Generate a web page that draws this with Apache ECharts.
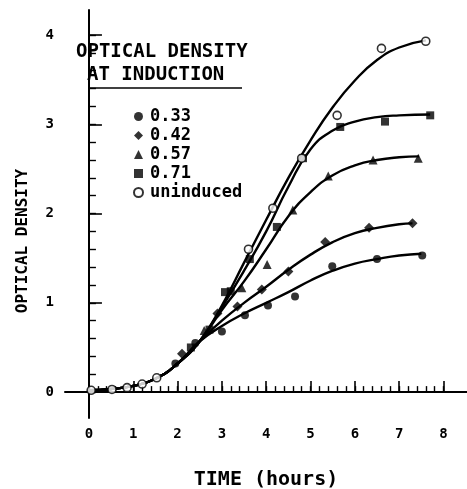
<!DOCTYPE html>
<html>
<head>
<meta charset="utf-8">
<script src="https://cdn.jsdelivr.net/npm/echarts@6/dist/echarts.min.js"></script>
<style>html,body{margin:0;padding:0;background:#fff;}#c{width:467px;height:489px;}</style>
</head>
<body>
<div id="c"></div>
<script>
// ---- data ----
var xTickLabels = [0, 1, 2, 3, 4, 5, 6, 7, 8];
var yTickLabels = [0, 1, 2, 3, 4];
var seriesNames = ['0.33', '0.42', '0.57', '0.71', 'uninduced'];

// measured points [time (h), optical density]
var pts033 = [[1.95,0.32],[2.4,0.55],[3.0,0.68],[3.52,0.86],[4.04,0.97],[4.65,1.07],[5.49,1.41],[6.5,1.49],[7.52,1.53]];
var pts042 = [[2.1,0.43],[2.9,0.88],[3.35,0.96],[3.9,1.15],[4.5,1.35],[5.33,1.68],[6.32,1.84],[7.3,1.89]];
var pts057 = [[2.6,0.69],[3.45,1.17],[4.02,1.43],[4.6,2.04],[5.4,2.42],[6.41,2.6],[7.43,2.62]];
var pts071 = [[2.3,0.5],[2.72,0.7],[3.07,1.12],[3.2,1.13],[3.63,1.49],[4.24,1.85],[4.83,2.62],[5.67,2.97],[6.68,3.03],[7.7,3.1]];
var ptsUn  = [[0.05,0.02],[0.52,0.03],[0.86,0.05],[1.2,0.09],[1.53,0.16],[3.6,1.6],[4.15,2.06],[4.8,2.62],[5.6,3.1],[6.6,3.85],[7.6,3.93]];

// fitted curves
var curveEarly = [[0,0.02],[0.5,0.035],[1.0,0.07],[1.5,0.15],[2.0,0.32],[2.5,0.57]];
var curve033 = [[3.0,0.74],[3.5,0.88],[4.0,1.0],[4.5,1.12],[5.0,1.25],[5.5,1.36],[6.0,1.44],[6.5,1.49],[7.0,1.53],[7.5,1.55]];
var curve042 = [[3.0,0.8],[3.5,1.0],[4.0,1.18],[4.5,1.37],[5.0,1.54],[5.5,1.68],[6.0,1.78],[6.5,1.84],[7.0,1.88],[7.3,1.89]];
var curve057 = [[3.0,0.92],[3.5,1.24],[4.0,1.6],[4.5,1.97],[5.0,2.24],[5.5,2.43],[6.0,2.54],[6.5,2.6],[7.0,2.63],[7.45,2.64]];
var curve071 = [[3.0,0.95],[3.5,1.36],[4.0,1.8],[4.5,2.3],[5.0,2.72],[5.5,2.93],[6.0,3.03],[6.5,3.08],[7.0,3.1],[7.7,3.11]];
var curveUn  = [[3.0,0.97],[3.5,1.45],[4.0,1.93],[4.5,2.4],[5.0,2.82],[5.5,3.19],[6.0,3.49],[6.5,3.72],[7.0,3.86],[7.6,3.94]];

var FONT = 'DejaVu Sans Mono';
function minorRange(a, b, step) {
  var r = [];
  for (var v = a; v <= b + 1e-9; v += step) r.push(Math.round(v * 100) / 100);
  return r;
}
function withEarly(c) { return curveEarly.concat(c); }

var chart = echarts.init(document.getElementById('c'), null, {renderer: 'canvas'});
var lineStyle = {color: '#000', width: 2.4};
function curveSeries(data) {
  return {type: 'line', data: withEarly(data), smooth: 0.5, symbol: 'none',
    lineStyle: lineStyle, silent: true, z: 2, animation: false};
}
function pointSeries(name, data, symbol, size, empty) {
  return {type: 'scatter', name: name, data: data, symbol: symbol, symbolSize: size,
    itemStyle: empty ? {color: '#fff', borderColor: '#000', borderWidth: 1.6} : {color: '#000'},
    z: 3, animation: false};
}

chart.setOption({
  animation: false,
  backgroundColor: '#fff',
  grid: {left: 65, top: 10, right: 0, bottom: 71},
  xAxis: [
    {type: 'value', min: -0.54, max: 8.53, position: 'bottom',
     axisLine: {show: true, lineStyle: {color: '#000', width: 2}},
     axisTick: {show: true, inside: true, length: 11, customValues: xTickLabels, lineStyle: {color: '#000', width: 1.6}},
     axisLabel: {customValues: xTickLabels, margin: 9, color: '#000', fontFamily: FONT, fontWeight: 'bold', fontSize: 14},
     splitLine: {show: false}},
    {type: 'value', min: -0.54, max: 8.53, position: 'bottom',
     axisLine: {show: false},
     axisTick: {show: true, inside: true, length: 6, customValues: minorRange(0, 8, 0.2), lineStyle: {color: '#000', width: 1.4}},
     axisLabel: {show: false}, splitLine: {show: false}}
  ],
  yAxis: [
    {type: 'value', min: -0.29, max: 4.28, position: 'left',
     axisLine: {show: true, lineStyle: {color: '#000', width: 2}},
     axisTick: {show: true, inside: true, length: 13, customValues: yTickLabels, lineStyle: {color: '#000', width: 1.6}},
     axisLabel: {customValues: yTickLabels, margin: 11, color: '#000', fontFamily: FONT, fontWeight: 'bold', fontSize: 14},
     splitLine: {show: false}},
    {type: 'value', min: -0.29, max: 4.28, position: 'left',
     axisLine: {show: false},
     axisTick: {show: true, inside: true, length: 7, customValues: minorRange(0, 4, 0.2), lineStyle: {color: '#000', width: 1.4}},
     axisLabel: {show: false}, splitLine: {show: false}}
  ],
  legend: {
    data: seriesNames, orient: 'vertical', left: 128, top: 102,
    itemWidth: 9, itemHeight: 9, itemGap: 0,
    textStyle: {color: '#000', fontFamily: FONT, fontWeight: 'bold', fontSize: 17, lineHeight: 19, padding: [0, 0, 0, 2]},
    selectedMode: false
  },
  graphic: [
    {type: 'text', left: 76, top: 43, style: {text: 'OPTICAL DENSITY', font: 'bold 19px "DejaVu Sans Mono"', fill: '#000'}},
    {type: 'text', left: 87, top: 66, style: {text: 'AT INDUCTION', font: 'bold 19px "DejaVu Sans Mono"', fill: '#000'}},
    {type: 'line', shape: {x1: 88, y1: 88, x2: 242, y2: 88}, style: {stroke: '#000', lineWidth: 1.6}},
    {type: 'text', x: 23, y: 241, rotation: Math.PI / 2,
     style: {text: 'OPTICAL DENSITY', font: 'bold 16px "DejaVu Sans Mono"', fill: '#000', align: 'center', verticalAlign: 'middle'}},
    {type: 'text', x: 266, y: 480,
     style: {text: 'TIME (hours)', font: 'bold 20px "DejaVu Sans Mono"', fill: '#000', align: 'center', verticalAlign: 'middle'}}
  ],
  series: [
    curveSeries(curve033), curveSeries(curve042), curveSeries(curve057), curveSeries(curve071), curveSeries(curveUn),
    pointSeries(seriesNames[0], pts033, 'circle', 8, false),
    pointSeries(seriesNames[1], pts042, 'diamond', 10, false),
    pointSeries(seriesNames[2], pts057, 'triangle', 9, false),
    pointSeries(seriesNames[3], pts071, 'rect', 8, false),
    pointSeries(seriesNames[4], ptsUn, 'circle', 8, true)
  ]
});
</script>
</body>
</html>
